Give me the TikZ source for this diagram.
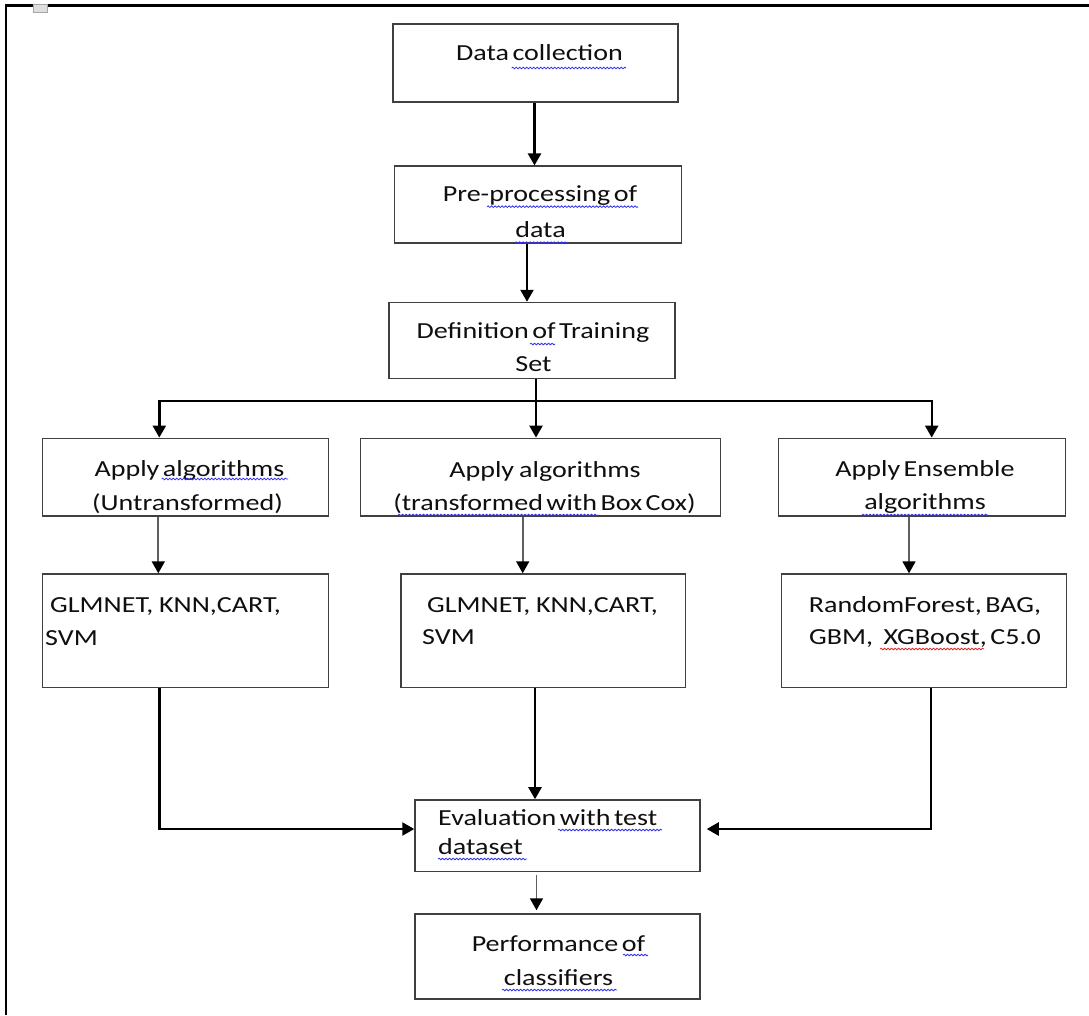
\documentclass[tikz,border=0pt]{standalone}
\usepackage{fontspec}
\setmainfont{Carlito}[FakeStretch=1.22, WordSpace=0.55]
\usetikzlibrary{arrows.meta,decorations.pathmorphing,calc}
\definecolor{boxgray}{RGB}{64,64,64}
\definecolor{arrowgray}{RGB}{95,95,95}
\definecolor{spellblue}{RGB}{50,50,235}
\definecolor{spellred}{RGB}{225,40,40}
\definecolor{txtcol}{RGB}{15,15,15}
\begin{document}
\begin{tikzpicture}[x=1pt,y=-1pt,
  box/.style={draw=boxgray, line width=1.5pt, inner sep=0pt, fill=white},
  txt/.style={anchor=base, inner sep=0pt, text=txtcol, font=\fontsize{23}{28}\selectfont},
  txtl/.style={txt, anchor=base west},
  tip/.style={-{Triangle[width=13pt,length=12pt,color=black,fill=black]}},
  bigline/.style={draw=black, line width=2.4pt},
  bigarrow/.style={bigline, tip},
  smallarrow/.style={draw=arrowgray, line width=1.7pt, tip},
  wavy/.style={draw=spellblue, line width=0.8pt, decorate, decoration={snake, amplitude=0.8pt, segment length=3.5pt}},
  wavyred/.style={wavy, draw=spellred}
]
\useasboundingbox (0,0) rectangle (1089,1015);
% page frame and icon
\draw[line width=2.6pt] (5.3,5.3) -- (1089,5.3);
\draw[line width=2pt] (6.3,4) -- (6.3,1015);
\draw[draw=gray!70, fill=gray!25] (33.5,4.5) rectangle (47.5,12.5);

% boxes
\node[box, minimum width=285pt, minimum height=78pt] (dc) at (535.5,63) {};
\node[box, minimum width=287pt, minimum height=77pt] (pre) at (537.8,204.7) {};
\node[box, minimum width=286pt, minimum height=76pt] (def) at (532.2,340.5) {};
\node[box, minimum width=285.6pt, minimum height=77.7pt] (a1) at (185.5,477.2) {};
\node[box, minimum width=360pt, minimum height=77.7pt] (a2) at (540.7,477.2) {};
\node[box, minimum width=287.4pt, minimum height=77.7pt] (a3) at (922,477.2) {};
\node[box, minimum width=285.6pt, minimum height=113.3pt] (b1) at (185.5,630.7) {};
\node[box, minimum width=284.7pt, minimum height=113.3pt] (b2) at (543.3,630.7) {};
\node[box, minimum width=285pt, minimum height=113.3pt] (b3) at (924.2,630.7) {};
\node[box, minimum width=285pt, minimum height=71.7pt] (ev) at (557.5,835.8) {};
\node[box, minimum width=285pt, minimum height=85pt] (pf) at (557.5,956.5) {};

% texts
\node[txt] (t1) at (539.5,60) {Data collection};
\node[txt] (t2a) at (540,201.7) {Pre-processing of};
\node[txt] (t2b) at (540.5,237) {data};
\node[txt] (t3a) at (533,338) {Definition of Training};
\node[txt] (t3b) at (533.5,371) {Set};
\node[txt] (t4a) at (189.5,476) {Apply algorithms};
\node[txt] (t4b) at (187.5,510.7) {(Untransformed)};
\node[txt] (t5a) at (545,477) {Apply\hspace{0.22em}algorithms};
\node[txt] (t5b) at (544.5,510.7) {(transformed with Box Cox)};
\node[txt] (t6a) at (925,476) {Apply Ensemble};
\node[txt] (t6b) at (925,509) {algorithms};
\node[txtl] (t7a) at (50,612) {GLMNET,\hspace{0.25em}KNN,CART,};
\node[txtl] (t7b) at (45,645) {SVM};
\node[txtl] (t8a) at (427,612.7) {GLMNET,\hspace{0.25em}KNN,CART,};
\node[txtl] (t8b) at (422,644) {SVM};
\node[txt] (t9a) at (925,612.7) {RandomForest, BAG,};
\node[txt] (t9b) at (925,644) {GBM,\hspace{0.45em}XGBoost, C5.0};
\node[txtl] (t10a) at (438,825) {Evaluation with test};
\node[txtl] (t10b) at (438,854) {dataset};
\node[txt] (t11a) at (558.5,951.7) {Performance of};
\node[txt] (t11b) at (558.5,985) {classifiers};

% spell-check underlines
\draw[wavy] (511.7,68) -- (626,68);
\draw[wavy] (487,206.7) -- (638,206.7);
\draw[wavy] (515,242.7) -- (567,242.7);
\draw[wavy] (530,344) -- (555,344);
\draw[wavy] (161.7,479) -- (288,479);
\draw[wavy] (398,515) -- (598,515);
\draw[wavy] (862,515) -- (988,515);
\draw[wavyred] (880,649) -- (984,649);
\draw[wavy] (558,830) -- (662,830);
\draw[wavy] (438,859) -- (527,859);
\draw[wavy] (623,955) -- (648,955);
\draw[wavy] (502,990) -- (617,990);

% connectors
\draw[bigarrow] (dc.south -| 534.5,0) -- (pre.north -| 534.5,0);
\draw[bigarrow] (pre.south -| 527,0) -- (def.north -| 527,0);
\coordinate (sp) at (536,401);
\coordinate (spl) at (159.3,401);
\coordinate (spr) at (931.7,401);
\draw[bigline] (def.south -| sp) -- (sp);
\draw[bigline, line cap=rect] (spl) -- (spr);
\draw[bigarrow] (spl) -- (a1.north -| spl);
\draw[bigarrow] (sp) -- (a2.north -| sp);
\draw[bigarrow] (spr) -- (a3.north -| spr);

\draw[smallarrow] (a1.south -| 158.3,0) -- (b1.north -| 158.3,0);
\draw[smallarrow] (a2.south -| 522.7,0) -- (b2.north -| 522.7,0);
\draw[smallarrow] (a3.south -| 909,0) -- (b3.north -| 909,0);

\draw[bigarrow] (b1.south -| 159.5,0) |- (ev.west |- 0,829);
\draw[bigarrow] (b2.south -| 535,0) -- (ev.north -| 535,0);
\draw[bigarrow, shorten >=6pt] (b3.south -| 931,0) |- (ev.east |- 0,829);

\draw[smallarrow, shorten <=3pt, shorten >=3pt] (ev.south -| 536.5,0) -- (pf.north -| 536.5,0);
\end{tikzpicture}
\end{document}
